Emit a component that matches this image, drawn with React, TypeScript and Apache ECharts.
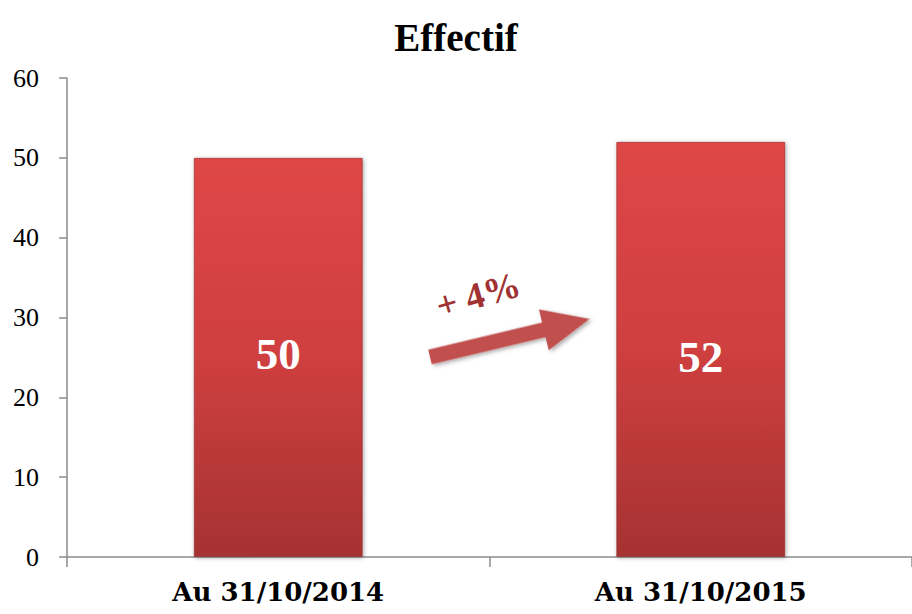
import React, { useEffect, useRef } from "react";
import * as echarts from "echarts";

const categories = ["Au 31/10/2014", "Au 31/10/2015"];
const values = [50, 52];
const yTicks = [0, 10, 20, 30, 40, 50, 60];
const titleText = "Effectif";
const growthText = "+ 4%";

export default function App() {
  const ref = useRef<HTMLDivElement>(null);
  useEffect(() => {
    if (!ref.current) return;
    const chart = echarts.init(ref.current, undefined, { renderer: "svg" });
    const axisColor = "#8c8c8c";
    const labelOffsets = [[0, -3], [0, 8]];
    chart.setOption({
      animation: false,
      backgroundColor: "#ffffff",
      title: {
        text: titleText,
        left: "center",
        top: 13,
        textStyle: {
          fontFamily: "Liberation Serif",
          fontWeight: "bold",
          fontSize: 39,
          color: "#000",
        },
      },
      grid: { left: 67, right: 0, top: 78, bottom: 57, containLabel: false },
      xAxis: {
        type: "category",
        data: categories,
        axisLine: { show: true, lineStyle: { color: axisColor, width: 1.5 } },
        axisTick: { show: true, length: 10, lineStyle: { color: axisColor, width: 1.5 } },
        axisLabel: {
          margin: 22,
          fontFamily: "DejaVu Serif",
          fontWeight: "bold",
          fontSize: 26,
          color: "#000",
        },
      },
      yAxis: {
        type: "value",
        min: yTicks[0],
        max: yTicks[yTicks.length - 1],
        interval: 10,
        axisLine: { show: true, lineStyle: { color: axisColor, width: 1.5 } },
        axisTick: { show: true, length: 8, lineStyle: { color: axisColor, width: 1.5 } },
        splitLine: { show: false },
        axisLabel: {
          margin: 28,
          fontFamily: "Liberation Serif",
          fontSize: 26,
          color: "#000",
        },
      },
      series: [
        {
          type: "bar",
          data: values.map((v, i) => ({ value: v, label: { offset: labelOffsets[i] } })),
          barWidth: "40%",
          itemStyle: {
            color: new echarts.graphic.LinearGradient(0, 0, 0, 1, [
              { offset: 0, color: "#df4646" },
              { offset: 0.5, color: "#cf3f3f" },
              { offset: 1, color: "#a63232" },
            ]),
            borderColor: "rgba(150,40,40,0.6)",
            borderWidth: 1,
            shadowColor: "rgba(0,0,0,0.35)",
            shadowBlur: 4,
            shadowOffsetX: 1,
            shadowOffsetY: 1,
          },
          label: {
            show: true,
            position: "inside",
            fontFamily: "Liberation Serif",
            fontWeight: "bold",
            fontSize: 45,
            color: "#ffffff",
          },
        },
      ],
      graphic: [
        {
          type: "group",
          x: 430,
          y: 357,
          rotation: 0.234,
          children: [
            {
              type: "polygon",
              shape: {
                points: [
                  [0, -7.5],
                  [117, -7.5],
                  [117, -21],
                  [164, 0],
                  [117, 21],
                  [117, 7.5],
                  [0, 7.5],
                ],
              },
              style: {
                fill: "#c0504d",
                shadowColor: "rgba(0,0,0,0.35)",
                shadowBlur: 4,
                shadowOffsetX: 2,
                shadowOffsetY: 2,
              },
            },
          ],
        },
        {
          type: "text",
          x: 478,
          y: 295,
          rotation: 0.28,
          style: {
            text: growthText,
            fontFamily: "Liberation Serif",
            fontWeight: "bold",
            fontSize: 37,
            fill: "#a03232",
            align: "center",
            verticalAlign: "middle",
          },
        },
      ],
    });
    return () => chart.dispose();
  }, []);
  return <div ref={ref} style={{ width: 912, height: 614, position: "absolute", left: 0, top: 0 }} />;
}
